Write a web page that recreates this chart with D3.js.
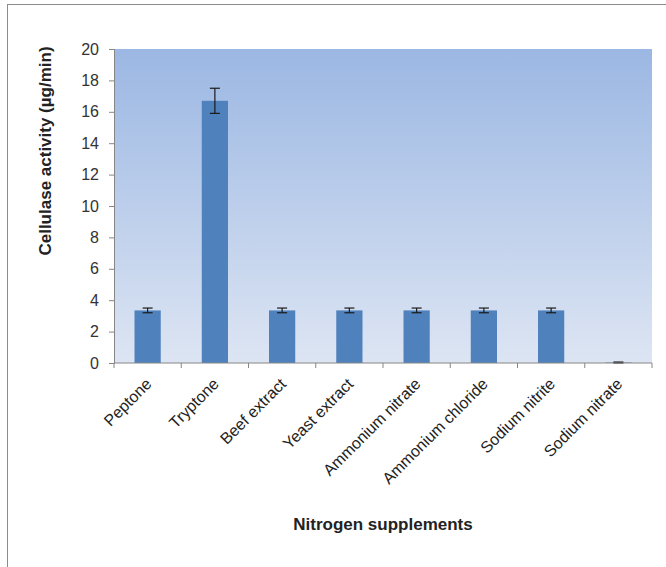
<!DOCTYPE html>
<html><head><meta charset="utf-8">
<script src="https://cdn.jsdelivr.net/npm/d3@7/dist/d3.min.js"></script>
<style>body{margin:0;background:#fff}svg{display:block;font-family:"Liberation Sans",Arial,sans-serif}</style>
</head><body>
<script>
const categories = ["Peptone","Tryptone","Beef extract","Yeast extract","Ammonium nitrate","Ammonium chloride","Sodium nitrite","Sodium nitrate"];
const values = [3.35, 16.7, 3.35, 3.35, 3.35, 3.35, 3.35, 0.03];
const errors = [0.15, 0.8, 0.15, 0.15, 0.15, 0.15, 0.15, 0.03];
const yTicks = [0,2,4,6,8,10,12,14,16,18,20];

(function(){
const W = 666, H = 567;
const svg = d3.select("body").append("svg").attr("width", W).attr("height", H);

// outer border
svg.append("rect").attr("x",7.5).attr("y",4.5).attr("width",W).attr("height",H)
  .attr("fill","none").attr("stroke","#8c8c8c").attr("stroke-width",1);

const pL = 114, pR = 652, pT = 49, pB = 363;
const x = d3.scaleBand().domain(categories).range([pL,pR]).paddingInner(0.61).paddingOuter(0.305);
const xb = d3.scaleBand().domain(categories).range([pL,pR]);
const y = d3.scaleLinear().domain([0,20]).range([pB,pT]);

const defs = svg.append("defs");
const g = defs.append("linearGradient").attr("id","bg").attr("x1",0).attr("y1",0).attr("x2",0).attr("y2",1);
g.append("stop").attr("offset","0%").attr("stop-color","#9bb7e3");
g.append("stop").attr("offset","100%").attr("stop-color","#dde5f3");
svg.append("rect").attr("x",pL).attr("y",pT).attr("width",pR-pL).attr("height",pB-pT).attr("fill","url(#bg)");

// bars
svg.selectAll("rect.bar").data(categories).join("rect").attr("class","bar")
  .attr("x",d=>x(d)).attr("width",x.bandwidth())
  .attr("y",(d,i)=>y(values[i])).attr("height",(d,i)=>y(0)-y(values[i]))
  .attr("fill","#4f81bd");

// error bars
const eb = svg.append("g").attr("stroke","#1a1a1a").attr("stroke-width",1.2);
categories.forEach((c,i)=>{
  const cx = x(c)+x.bandwidth()/2;
  const y1 = y(values[i]+errors[i]), y2 = y(Math.max(0,values[i]-errors[i]));
  eb.append("line").attr("x1",cx).attr("x2",cx).attr("y1",y1).attr("y2",y2);
  eb.append("line").attr("x1",cx-5).attr("x2",cx+5).attr("y1",y1).attr("y2",y1);
  eb.append("line").attr("x1",cx-5).attr("x2",cx+5).attr("y1",y2).attr("y2",y2);
});

// y axis
const ya = svg.append("g").attr("transform",`translate(${pL},0)`)
  .call(d3.axisLeft(y).tickValues(yTicks).tickSize(5).tickPadding(10));
ya.select(".domain").attr("stroke","#868686");
ya.selectAll(".tick line").attr("stroke","#868686");
ya.selectAll(".tick text").attr("font-size",16).attr("fill","#333");

// x axis
const xa = svg.append("g").attr("transform",`translate(0,${pB})`);
xa.append("line").attr("x1",pL).attr("x2",pR).attr("stroke","#868686");
const bounds = categories.map(c=>xb(c)).concat([pR]);
xa.selectAll("line.t").data(bounds).join("line").attr("class","t")
  .attr("x1",d=>d).attr("x2",d=>d).attr("y1",0).attr("y2",5).attr("stroke","#868686");
xa.selectAll("text").data(categories).join("text")
  .attr("transform",d=>`translate(${xb(d)+xb.bandwidth()/2+5},22) rotate(-45)`)
  .attr("text-anchor","end").attr("font-size",16).attr("fill","#222").text(d=>d);

// titles
svg.append("text").attr("transform",`translate(51,151) rotate(-90)`)
  .attr("text-anchor","middle").attr("font-size",17).attr("font-weight","bold").attr("fill","#222")
  .text("Cellulase activity (µg/min)");
svg.append("text").attr("x",383).attr("y",530).attr("text-anchor","middle")
  .attr("font-size",17).attr("font-weight","bold").attr("fill","#222").text("Nitrogen supplements");
})();
</script>
</body></html>
